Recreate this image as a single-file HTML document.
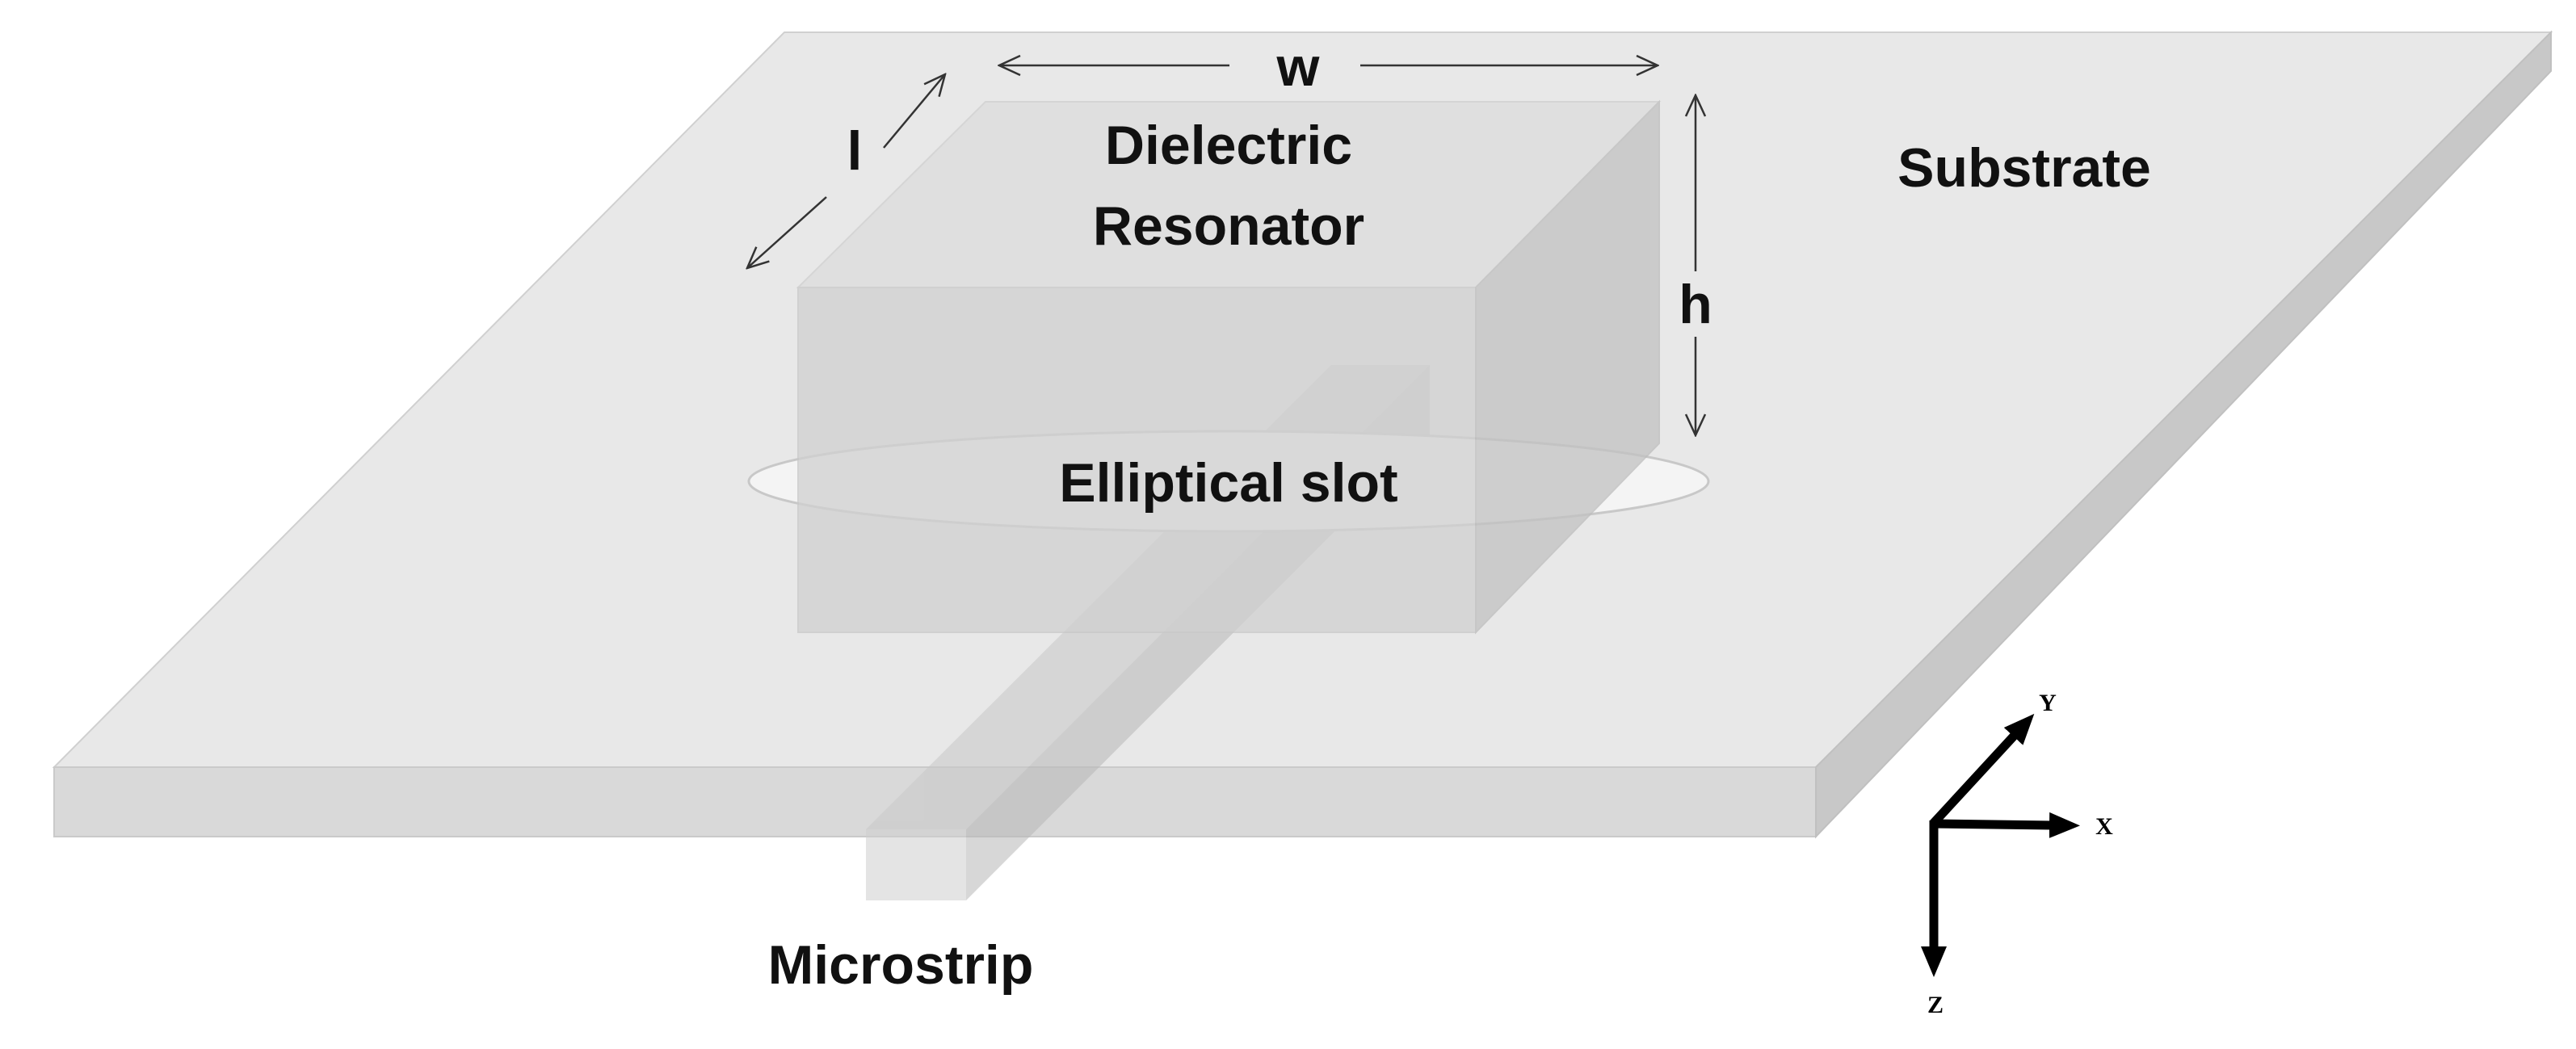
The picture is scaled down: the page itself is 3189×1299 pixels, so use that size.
<!DOCTYPE html>
<html><head><meta charset="utf-8"><style>html,body{margin:0;padding:0;background:#fff}</style></head><body>
<svg width="3189" height="1294" viewBox="0 0 3189 1294" xmlns="http://www.w3.org/2000/svg">
<defs>
<marker id="ch" markerWidth="30" markerHeight="30" refX="28" refY="15" orient="auto" markerUnits="userSpaceOnUse">
<path d="M2,3 L28,15 L2,27" fill="none" stroke="#333" stroke-width="2.5"/></marker>
<marker id="bk" markerWidth="40" markerHeight="40" refX="8" refY="20" orient="auto" markerUnits="userSpaceOnUse">
<path d="M0,4 L38,20 L0,36 Z" fill="#000"/></marker>
</defs>
<polygon points="971,40 3158,40 2248,950 67,950" fill="#e8e8e8" stroke="#d0d0d0" stroke-width="2"/>
<polygon points="67,950 2248,950 2248,1036 67,1036" fill="#d9d9d9" stroke="#cacaca" stroke-width="2"/>
<polygon points="2248,950 3158,40 3158,88 2248,1036" fill="#c8c8c8" stroke="#c0c0c0" stroke-width="2"/>
<g opacity="0.55">
<polygon points="1072,1027 1648,452 1770,452 1196,1027" fill="#c8c8c8"/>
<polygon points="1196,1027 1770,452 1770,540 1196,1115" fill="#b8b8b8"/>
<rect x="1072" y="1027" width="124" height="88" fill="#cfcfcf"/>
</g>
<ellipse cx="1521" cy="596" rx="594" ry="62" fill="#f4f4f4" stroke="#c8c8c8" stroke-width="3"/>
<g opacity="0.75">
<polygon points="988,356 1220,126 2054,126 1827,356" fill="#dcdcdc" stroke="#cfcfcf" stroke-width="2"/>
<rect x="988" y="356" width="839" height="427" fill="#d0d0d0" stroke="#c8c8c8" stroke-width="2"/>
<polygon points="1827,356 2054,126 2054,549 1827,783" fill="#c2c2c2" stroke="#bcbcbc" stroke-width="2"/>
</g>
<g stroke="#333" stroke-width="2.5" fill="none">
<line x1="1522" y1="81" x2="1237" y2="81" marker-end="url(#ch)"/>
<line x1="1684" y1="81" x2="2052" y2="81" marker-end="url(#ch)"/>
<line x1="1094" y1="183" x2="1170" y2="92" marker-end="url(#ch)"/>
<line x1="1023" y1="244" x2="925" y2="332" marker-end="url(#ch)"/>
<line x1="2099" y1="336" x2="2099" y2="118" marker-end="url(#ch)"/>
<line x1="2099" y1="417" x2="2099" y2="539" marker-end="url(#ch)"/>
</g>
<g stroke="#000" fill="none">
<line x1="2393" y1="1020" x2="2545" y2="1022" marker-end="url(#bk)" stroke-width="11"/>
<line x1="2393" y1="1020" x2="2498" y2="906" marker-end="url(#bk)" stroke-width="11"/>
<line x1="2394" y1="1016" x2="2394" y2="1180" marker-end="url(#bk)" stroke-width="11"/>
</g>
<g font-family="Liberation Serif, serif" font-weight="bold" font-size="30" fill="#000" text-anchor="middle">
<text x="2535" y="880">Y</text><text x="2605" y="1033">X</text><text x="2396" y="1254">Z</text>
</g>
<g font-family="Liberation Sans, sans-serif" font-weight="bold" font-size="68" fill="#111" text-anchor="middle">
<text x="1521" y="203">Dielectric</text>
<text x="1521" y="303">Resonator</text>
<text x="2506" y="231">Substrate</text>
<text x="1521" y="621">Elliptical slot</text>
<text x="1115" y="1218">Microstrip</text>
<text x="1607" y="106">w</text>
<text x="1058" y="210">l</text>
<text x="2099" y="400">h</text>
</g>
</svg>
</body></html>
